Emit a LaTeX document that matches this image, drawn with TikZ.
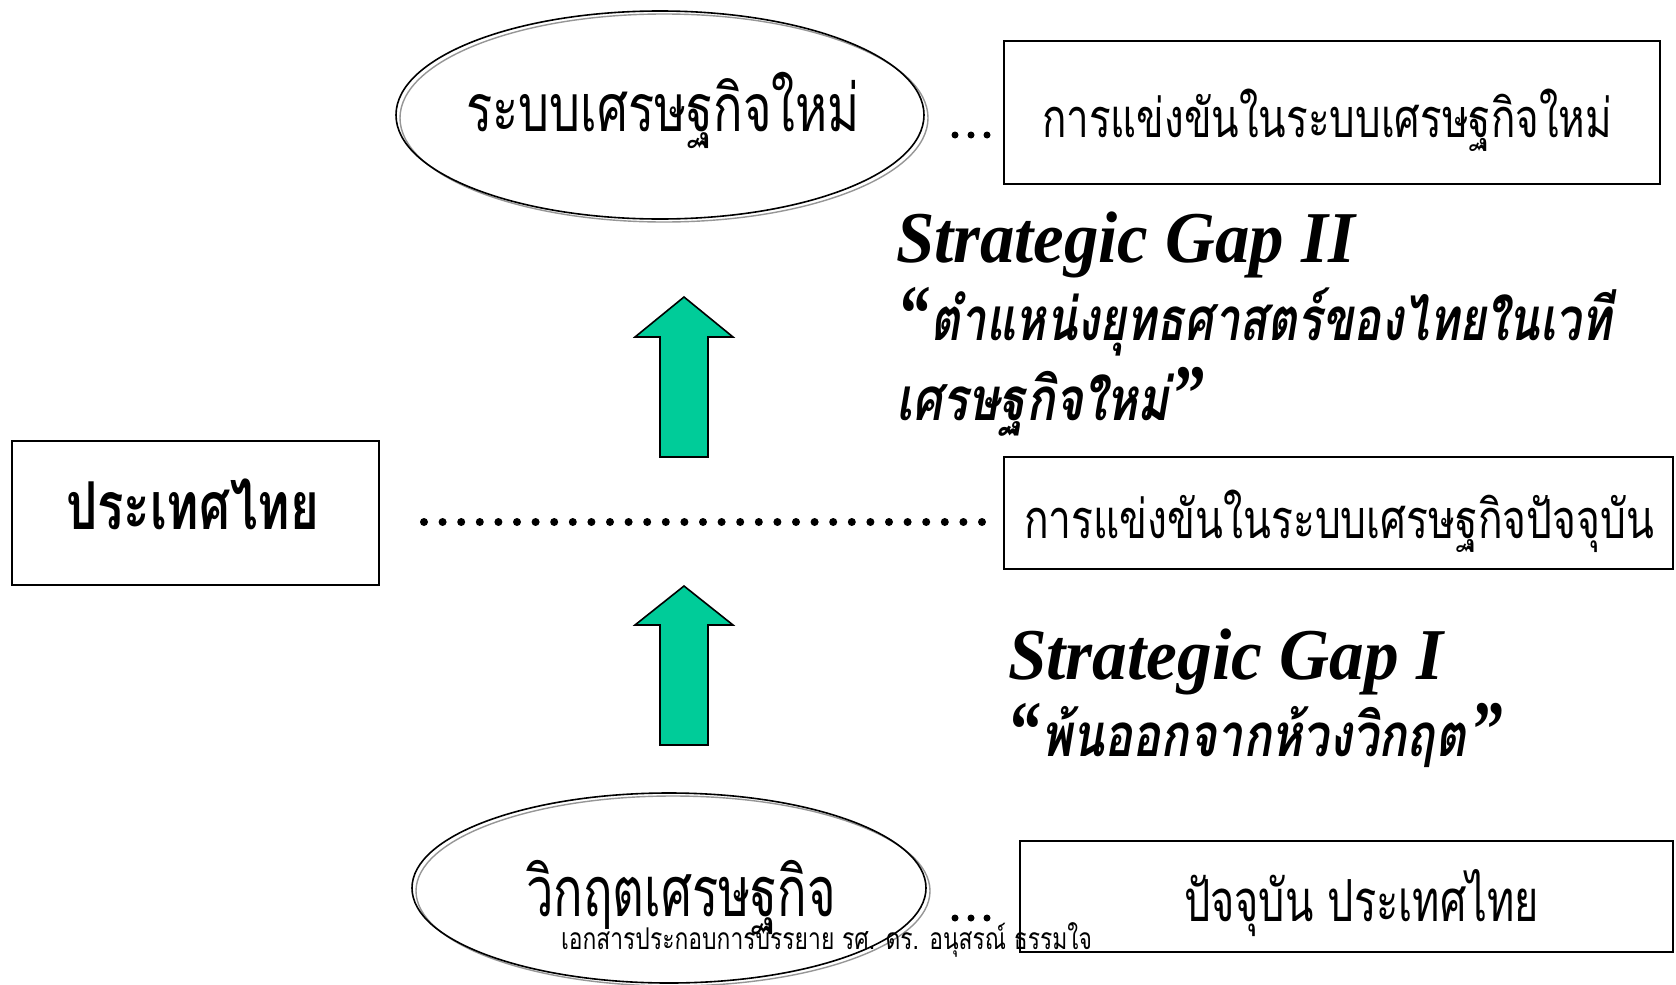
\documentclass[tikz,border=0pt]{standalone}
\usepackage{graphicx}
\usepackage{fontspec}
\setmainfont{Liberation Serif}
\newfontfamily\thai[Script=Thai]{Loma}
\usetikzlibrary{shapes.geometric}
\definecolor{arrowgreen}{RGB}{0,204,153}
\definecolor{shadowgray}{RGB}{150,150,150}
\newcommand\fitw[2]{\resizebox{#1}{\height}{#2}}
\newcommand\myopenq{{\upshape\bfseries\fontsize{80}{84}\selectfont “}}
\newcommand\myclosq{{\upshape\bfseries\fontsize{80}{84}\selectfont ”}}
\begin{document}
\begin{tikzpicture}[x=1pt,y=-1pt,
  boxnode/.style={draw, line width=1.6pt, rectangle, inner sep=0pt},
  ellnode/.style={draw, line width=1.6pt, ellipse, inner sep=0pt},
  shadownode/.style={draw=shadowgray, line width=1.4pt, ellipse, inner sep=0pt},
  txt/.style={anchor=base west, inner sep=0pt, outer sep=0pt},
  blockarrow/.style={fill=arrowgreen, draw=black, line width=1.6pt, line join=miter},
  dotline/.style={line width=8pt, line cap=round, dash pattern=on 0pt off 18.6pt},
  smalldot/.style={circle, fill=black, inner sep=0pt, minimum size=7pt}]
\useasboundingbox (0,0) rectangle (1676,985);
\fill[white] (0,0) rectangle (1676,985);

% ellipses
\node[shadownode, minimum width=528pt, minimum height=208pt] (topsh) at (664,118) {};
\node[ellnode, minimum width=528pt, minimum height=208pt] (topell) at (660,115) {};
\node[shadownode, minimum width=514pt, minimum height=190pt] (botsh) at (673,891) {};
\node[ellnode, minimum width=514pt, minimum height=190pt] (botell) at (669,888) {};

% boxes
\node[boxnode, minimum width=656pt, minimum height=143pt] (boxtop) at (1332,112.5) {};
\node[boxnode, minimum width=669pt, minimum height=112pt] (boxmid) at (1338.5,513) {};
\node[boxnode, minimum width=653pt, minimum height=111pt] (boxbot) at (1346.5,896.5) {};
\node[boxnode, minimum width=367pt, minimum height=144pt] (boxleft) at (195.5,513) {};

% arrows
\draw[blockarrow] (660,457) -- (660,337) -- (635,337) -- (684,297) -- (733,337) -- (708,337) -- (708,457) -- cycle;
\draw[blockarrow] (660,745) -- (660,625) -- (635,625) -- (684,586) -- (733,625) -- (708,625) -- (708,745) -- cycle;

% dotted line
\coordinate (dotA) at (424,522);
\coordinate (dotB) at (983,522);
\draw[dotline] (dotA) -- (dotB);

% ellipsis dots
\node[smalldot] (dt1) at (955,135) {};
\node[smalldot] (dt2) at (971,135) {};
\node[smalldot] (dt3) at (987,135) {};
\node[smalldot] (db1) at (955,918) {};
\node[smalldot] (db2) at (971,918) {};
\node[smalldot] (db3) at (987,918) {};

% texts
\node[txt] (t1) at (466,131) {\fitw{394pt}{\thai\fontsize{66}{70}\selectfont ระบบเศรษฐกิจใหม่}};
\node[txt] (t2) at (1042,137) {\fitw{570pt}{\thai\fontsize{54}{60}\selectfont การแข่งขันในระบบเศรษฐกิจใหม่}};
\node[txt] (t3) at (66,529) {\fitw{253pt}{\thai\bfseries\fontsize{66}{70}\selectfont ประเทศไทย}};
\node[txt] (t4) at (1024,538) {\fitw{630pt}{\thai\fontsize{54}{60}\selectfont การแข่งขันในระบบเศรษฐกิจปัจจุบัน}};
\node[txt] (t5) at (526,916) {\fitw{310pt}{\thai\fontsize{70}{74}\selectfont วิกฤตเศรษฐกิจ}};
\node[txt] (t6) at (1184,921) {\fitw{355pt}{\thai\fontsize{58}{62}\selectfont ปัจจุบัน ประเทศไทย}};

\node[txt] (g2) at (896,262) {\fitw{459pt}{\bfseries\itshape\fontsize{73}{76}\selectfont Strategic Gap II}};
\node[txt] (q2a) at (900,340) {\fitw{712pt}{\bfseries\itshape\fontsize{60}{64}\selectfont \myopenq{\thai ตำแหน่งยุทธศาสตร์ของไทยในเวที}}};
\node[txt] (q2b) at (896,420) {\fitw{310pt}{\bfseries\itshape\fontsize{60}{64}\selectfont {\thai เศรษฐกิจใหม่}\hspace{6pt}\myclosq}};
\node[txt] (g1) at (1008,679) {\fitw{435pt}{\bfseries\itshape\fontsize{73}{76}\selectfont Strategic Gap I}};
\node[txt] (q1) at (1010,756) {\fitw{495pt}{\bfseries\itshape\fontsize{60}{64}\selectfont \myopenq{\thai พ้นออกจากห้วงวิกฤต}\,\myclosq}};

\node[txt] (foot) at (561,949) {\fitw{531pt}{\thai\fontsize{30}{34}\selectfont เอกสารประกอบการบรรยาย รศ. ดร. อนุสรณ์ ธรรมใจ}};
\end{tikzpicture}
\end{document}
